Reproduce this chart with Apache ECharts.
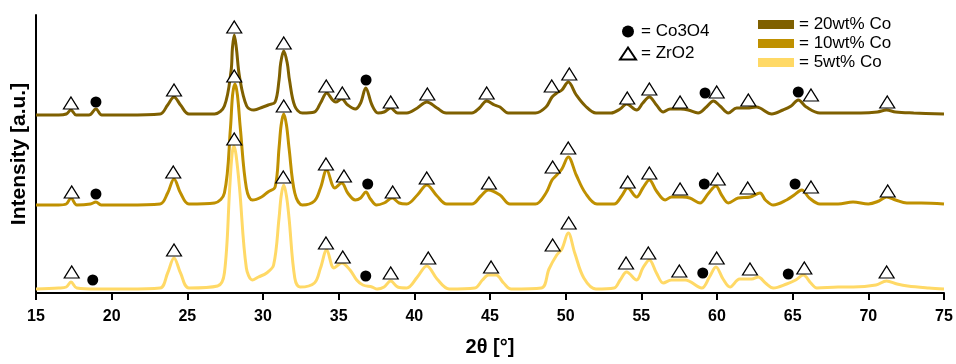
<!DOCTYPE html>
<html>
<head>
<meta charset="utf-8">
<script src="https://cdn.jsdelivr.net/npm/echarts@6/dist/echarts.min.js"></script>
<style>
html,body{margin:0;padding:0;background:#fff;}
#chart{width:956px;height:364px;}
</style>
</head>
<body>
<div id="chart"></div>
<script>
// x ticks
const xTicks = [15, 20, 25, 30, 35, 40, 45, 50, 55, 60, 65, 70, 75];
const seriesNames = ['20wt% Co', '10wt% Co', '5wt% Co'];
const markerNames = ['Co3O4', 'ZrO2'];

// XRD patterns [2theta, intensity a.u. (with vertical offset)]
const s20 = [[15.0,178],[16.5,178],[17.0,179],[17.31,183],[17.65,178],[18.5,178],[18.96,184],[19.35,178],[21.0,178],[23.2,179],[23.7,188],[24.12,196],[24.55,188],[25.1,179],[26.8,179],[27.45,187],[27.89,222],[27.98,245],[28.1,258],[28.24,245],[28.45,216],[28.92,187],[29.4,183],[30.0,186],[30.35,188],[30.8,191],[31.06,213],[31.17,230],[31.37,242],[31.6,230],[31.75,213],[32.1,187],[32.6,180],[33.4,181],[33.8,190],[34.21,200],[34.6,193],[34.8,191],[35.2,194],[35.6,188],[36.1,184],[36.45,190],[36.79,205],[37.2,188],[37.6,180],[38.0,181],[38.44,185],[38.9,180],[39.5,180],[40.2,185],[40.82,191],[41.5,185],[42.1,180],[43.8,180],[44.3,185],[44.78,192],[45.3,188],[45.66,186],[46.2,180],[48.0,180],[48.7,186],[49.1,196],[49.41,200],[49.75,203],[50.17,211],[50.7,198],[51.3,187],[52.0,180],[53.0,180],[53.6,184],[54.03,189],[54.69,183],[55.1,190],[55.53,196],[56.0,188],[56.45,181],[56.9,184],[57.6,184],[58.1,183],[58.75,180],[59.3,186],[59.76,192],[60.2,187],[60.75,180],[61.3,185],[62.0,185],[62.6,186],[62.84,185],[63.62,179],[64.36,183],[64.9,187],[65.37,193],[65.9,186],[66.8,180],[68.0,180],[69.5,180],[70.6,181],[71.2,183],[71.8,181],[73.0,180],[75.0,179]];
const s10 = [[15.0,88],[16.5,88],[17.0,89],[17.31,95],[17.7,88],[18.6,89],[18.96,91],[19.3,88],[21.0,88],[23.2,89],[23.7,100],[24.12,114],[24.55,100],[25.1,89],[26.8,90],[27.45,100],[27.85,165],[27.99,198],[28.15,209],[28.31,198],[28.5,165],[28.9,105],[29.3,93],[29.9,96],[30.33,101],[30.8,106],[31.06,145],[31.2,168],[31.37,179],[31.55,168],[31.72,145],[32.1,100],[32.6,88],[33.4,92],[33.8,105],[34.21,123],[34.75,105],[35.2,110],[35.6,100],[36.1,93],[36.45,95],[36.8,101],[37.1,94],[37.5,88],[38.0,90],[38.54,95],[39.0,90],[39.5,89],[40.2,98],[40.82,108],[41.5,97],[42.14,89],[43.8,89],[44.4,97],[44.89,103],[45.66,98],[46.32,89],[48.0,89],[48.7,100],[49.1,113],[49.41,118],[49.75,124],[50.17,136],[50.7,118],[51.3,100],[52.07,89],[53.2,89],[53.7,97],[54.1,105],[54.69,96],[55.1,105],[55.53,113],[56.0,102],[56.57,93],[57.0,96],[57.7,96],[58.2,95],[58.88,90],[59.4,99],[59.93,107],[60.3,98],[60.75,90],[61.4,95],[62.2,96],[62.84,100],[63.2,93],[63.72,88],[64.6,93],[65.1,98],[65.6,103],[66.1,95],[66.8,89],[68.0,89],[68.99,91],[70.0,89],[70.7,92],[71.21,96],[71.8,93],[72.54,90],[73.5,90],[75.0,89]];
const s5 = [[15.0,4],[16.5,5],[17.0,6],[17.31,11],[17.7,5],[19.0,4],[21.0,4],[23.2,5],[23.7,20],[24.12,35],[24.55,20],[25.1,5],[27.0,7],[27.45,20],[27.8,105],[27.95,138],[28.08,147],[28.22,138],[28.45,105],[28.9,25],[29.3,13],[29.7,16],[30.24,20],[30.7,28],[31.06,75],[31.2,97],[31.37,108],[31.55,97],[31.72,75],[32.1,15],[32.45,6],[33.4,10],[33.8,25],[34.21,43],[34.69,25],[35.2,30],[35.75,23],[36.19,13],[36.6,8],[37.2,6],[37.55,4],[38.0,6],[38.44,12],[38.9,6],[39.5,5],[40.2,16],[40.82,27],[41.5,14],[42.3,4],[44.0,5],[44.5,13],[44.9,18],[45.4,18],[45.9,10],[46.4,4],[48.4,5],[48.9,24],[49.41,38],[49.75,44],[50.17,60],[50.6,40],[51.2,15],[52.0,4],[53.2,5],[53.6,13],[54.03,21],[54.69,13],[55.1,25],[55.53,33],[56.0,20],[56.45,10],[57.0,13],[57.9,13],[58.99,5],[59.5,16],[59.93,26],[60.4,14],[60.86,6],[61.5,14],[62.3,14],[62.73,16],[63.2,10],[63.72,5],[64.6,9],[65.2,13],[65.7,18],[66.2,10],[66.6,5],[68.0,6],[69.0,6],[70.5,8],[71.2,12],[71.9,9],[72.6,7],[74.0,5],[75.0,4]];

// phase markers [2theta, position]
const zro2_20 = [[17.31,190],[24.12,203],[28.1,266],[31.37,250],[34.18,207],[35.24,200],[38.44,191],[40.86,199],[44.78,200],[49.08,207],[50.24,219],[54.07,195],[55.53,204],[57.56,191],[59.98,201],[62.07,193],[66.21,198],[71.25,191]];
const co3o4_20 = [[18.96,191],[36.81,213],[59.21,200],[65.37,201]];
const zro2_10 = [[17.36,101],[24.07,121],[28.1,217],[31.37,187],[34.16,129],[35.35,117],[38.57,101],[40.82,115],[44.93,110],[49.14,126],[50.17,145],[54.1,111],[55.53,120],[57.56,104],[60.05,114],[62.03,105],[66.21,106],[71.28,102]];
const co3o4_10 = [[18.96,99],[36.92,109],[59.16,109],[65.16,109]];
const zro2_5 = [[17.36,21],[24.12,43],[28.1,154],[31.34,116],[34.16,50],[35.27,36],[38.44,20],[40.92,35],[45.07,26],[49.14,48],[50.2,70],[53.99,30],[55.46,40],[57.51,22],[59.98,35],[62.18,24],[65.77,25],[71.21,21]];
const co3o4_5 = [[18.75,13],[36.79,17],[59.06,20],[64.71,19]];

const colors = ['#7F6000', '#BF9000', '#FFD966'];
const font = '"Liberation Sans", Arial, sans-serif';

const chart = echarts.init(document.getElementById('chart'), null, {renderer: 'canvas'});
const lineData = [s20, s10, s5];
const lineSeries = [2, 1, 0].map(i => ({
  name: seriesNames[i],
  type: 'line',
  data: lineData[i],
  smooth: 0.35,
  showSymbol: false,
  symbol: 'none',
  lineStyle: {color: colors[i], width: 3},
  itemStyle: {color: colors[i]},
  z: 2
}));

const option = {
  animation: false,
  backgroundColor: '#fff',
  grid: {left: 36, right: 12, top: 15, bottom: 71, containLabel: false},
  xAxis: {
    type: 'value', min: 15, max: 75, interval: 5,
    name: '2θ [°]', nameLocation: 'middle', nameGap: 44,
    nameTextStyle: {fontFamily: font, fontWeight: 'bold', fontSize: 20, color: '#000'},
    axisLine: {onZero: false, lineStyle: {color: '#000', width: 2}},
    axisTick: {show: true, length: 7, inside: false, lineStyle: {color: '#000', width: 2}},
    axisLabel: {margin: 16, fontFamily: font, fontWeight: 'bold', fontSize: 16, color: '#000',
      formatter: v => xTicks.includes(v) ? String(v) : ''},
    splitLine: {show: false}
  },
  yAxis: {
    type: 'value', min: 0, max: 278,
    name: 'Intensity [a.u.]', nameLocation: 'middle', nameGap: 6,
    nameTextStyle: {fontFamily: font, fontWeight: 'bold', fontSize: 21, color: '#000'},
    axisLine: {show: true, lineStyle: {color: '#000', width: 2}},
    axisTick: {show: false},
    axisLabel: {show: false},
    splitLine: {show: false}
  },
  legend: [
    {
      data: markerNames, orient: 'vertical', left: 614, top: 18,
      itemWidth: 16, itemHeight: 12, itemGap: 5,
      formatter: n => '= ' + n,
      textStyle: {fontFamily: font, fontSize: 17, color: '#000'},
      selectedMode: false
    },
    {
      data: seriesNames, orient: 'vertical', left: 753, top: 11,
      itemWidth: 36, itemHeight: 9, itemGap: 2,
      icon: 'rect',
      formatter: n => '= ' + n,
      textStyle: {fontFamily: font, fontSize: 17, color: '#000'},
      selectedMode: false
    }
  ],
  series: lineSeries.concat([
    {
      name: 'ZrO2', type: 'scatter',
      data: zro2_20.concat(zro2_10, zro2_5),
      symbol: 'triangle', symbolSize: [15, 12],
      itemStyle: {color: '#fff', borderColor: '#000', borderWidth: 1.2, opacity: 1},
      z: 5
    },
    {
      name: 'Co3O4', type: 'scatter',
      data: co3o4_20.concat(co3o4_10, co3o4_5),
      symbol: 'circle', symbolSize: 11,
      itemStyle: {color: '#000', opacity: 1},
      z: 5
    }
  ])
};
chart.setOption(option);
</script>
</body>
</html>
